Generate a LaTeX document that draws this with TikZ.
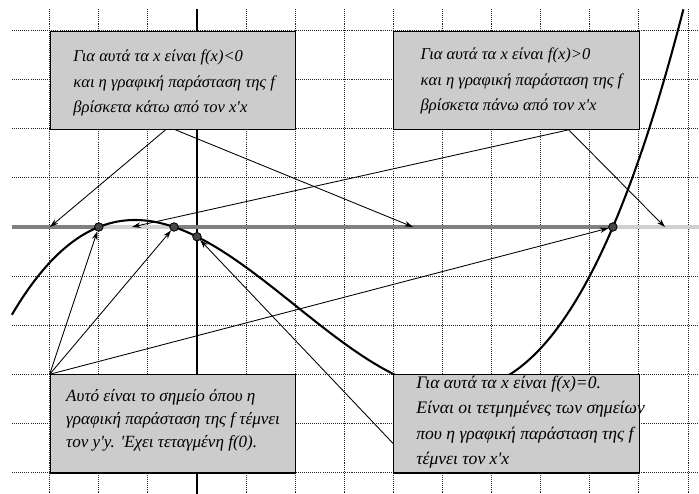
\documentclass[tikz,border=0pt]{standalone}
\usepackage{fontspec}
\newfontfamily\gr[Ligatures=TeXOff]{Liberation Serif}
\usetikzlibrary{arrows.meta,calc}
\definecolor{boxgray}{RGB}{204,204,204}
\definecolor{axdark}{RGB}{128,128,128}
\definecolor{axlight}{RGB}{208,208,208}
\definecolor{dotgray}{RGB}{70,70,70}
\begin{document}
\begin{tikzpicture}[
  gridline/.style={black!85, line width=0.55pt, dash pattern=on 0.6pt off 0.6pt},
  yaxis/.style={black, line width=0.6pt},
  axd/.style={axdark, line width=1.8pt},
  axl/.style={axlight, line width=1.8pt},
  curve/.style={black, line width=1.2pt},
  box/.style={draw=black, fill=boxgray, line width=0.6pt, inner sep=0pt, anchor=north west, minimum width=5cm, minimum height=2cm},
  txt/.style={font=\gr\itshape\fontsize{9.6}{15}\selectfont, align=left, inner sep=0pt, anchor=base west},
  conn/.style={black, line width=0.5pt, -{Stealth[length=5pt,width=3.2pt]}},
  dot/.style={circle, draw=black, fill=dotgray, line width=0.4pt, minimum size=0.17cm, inner sep=0pt}
]
\useasboundingbox (-4.012,-5.438) rectangle (10.224,4.623);
% grid
\foreach \x in {-3,...,10} \draw[gridline] (\x,4.44) -- (\x,-5.438);
\foreach \y in {-5,...,4} \draw[gridline] (-3.77,\y) -- (10.224,\y);
% y axis
\draw[yaxis] (0,4.44) -- (0,-5.438);
% x axis
\draw[axd] (-3.77,0) -- (-2,0);
\draw[axl] (-2,0) -- (-0.468,0);
\draw[axd] (-0.468,0) -- (8.47,0);
\draw[axl] (8.47,0) -- (10.224,0);
% curve
\draw[curve] plot[domain=-3.77:9.907, samples=200, smooth] (\x, {0.025*(\x+2)*(\x+0.468)*(\x-8.47)});
% boxes
\node[box] (b1) at (-3,4) {};
\node[box] (b2) at (4,4) {};
\node[box] (b3) at (-3,-3) {};
\node[box] (b4) at (4,-3) {};
\node[txt] (t1) at (-2.525,2.322) {Για αυτά τα x είναι f(x)<0\\και η γραφική παράσταση της f\\βρίσκετα κάτω από τον x'x};
\node[txt] (t2) at (4.55,2.363) {Για αυτά τα x είναι f(x)>0\\και η γραφική παράσταση της f\\βρίσκετα πάνω από τον x'x};
\node[txt, font=\gr\itshape\fontsize{9.9}{13.4}\selectfont] (t3) at (-2.67,-4.50) {Αυτό είναι το σημείο όπου η\\γραφική παράσταση της f τέμνει\\τον y'y. 'Εχει τεταγμένη f(0).};
\node[txt, font=\gr\itshape\fontsize{10.2}{14.8}\selectfont] (t4) at (4.46,-4.84) {Για αυτά τα x είναι f(x)=0.\\Είναι οι τετμημένες των σημείων\\που η γραφική παράσταση της f\\τέμνει τον x'x};
% dots
\node[dot] (d1) at (-2,0) {};
\node[dot] (d2) at (-0.468,0) {};
\node[dot] (d3) at (0,-0.198) {};
\node[dot] (d4) at (8.47,0) {};
% arrow targets on the axis
\coordinate (p1) at (-2.994,0);
\coordinate (p2) at (4.40,0);
\coordinate (p3) at (-1.324,0);
\coordinate (p4) at (9.53,0);
% connectors
\draw[conn] ($(b1.south west)!0.47!(b1.south east)$) -- (p1);
\draw[conn] ($(b1.south west)!0.51!(b1.south east)$) -- (p2);
\draw[conn] ($(b2.south west)!0.711!(b2.south east)$) -- (p3);
\draw[conn] ($(b2.south west)!0.711!(b2.south east)$) -- (p4);
\draw[conn] (b3.north west) -- (d1);
\draw[conn] (b3.north west) -- (d2);
\draw[conn] (b3.north west) -- (d4);
\draw[conn] ($(b4.north west)!0.70!(b4.south west)$) -- (d3);
% redraw dots on top
\node[dot] at (d1) {};
\node[dot] at (d2) {};
\node[dot] at (d3) {};
\node[dot] at (d4) {};
\end{tikzpicture}
\end{document}
